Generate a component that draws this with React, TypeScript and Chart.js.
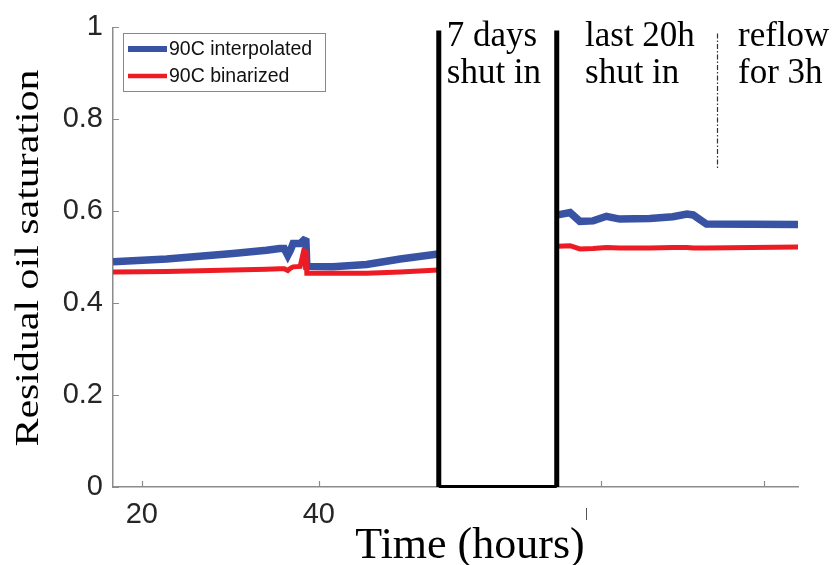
import React, { useEffect, useRef } from "react";
import { Chart, registerables } from "chart.js";

Chart.register(...registerables);

// ---- data ----
const timeHours = [16.75, 22.8, 30.3, 34.1, 35.6, 36.1, 36.5, 36.8, 37.1, 37.9, 38.3, 38.55, 38.65, 41.6, 45.4, 49.2, 53.5, 60, 67.0, 68.4, 69.5, 71.0, 72.5, 74.0, 77.4, 80.0, 81.6, 82.3, 83.8, 94.15];
const interpolated = [0.490, 0.496, 0.508, 0.515, 0.519, 0.519, 0.504, 0.515, 0.530, 0.530, 0.537, 0.535, 0.480, 0.479, 0.484, 0.496, 0.507, null, 0.592, 0.597, 0.578, 0.579, 0.589, 0.583, 0.584, 0.588, 0.594, 0.592, 0.572, 0.571];
const binarized = [0.468, 0.469, 0.472, 0.474, 0.475, 0.475, 0.471, 0.476, 0.479, 0.480, 0.514, 0.512, 0.465, 0.465, 0.465, 0.468, 0.472, null, 0.524, 0.525, 0.518, 0.519, 0.521, 0.520, 0.520, 0.521, 0.521, 0.520, 0.520, 0.522];

const seriesNames = ["90C interpolated", "90C binarized"];
const xTickValues = [20, 40, 71.9, 90.3];
const xTickLabels = ["20", "40", "", ""];
const yTickValues = [0, 0.2, 0.4, 0.6, 0.8, 1];
const xMin = 16.75;
const xMax = 94.15;
const shutInStart = 53.56;
const shutInEnd = 66.89;
const reflowMark = 84.97;
const annotations = [
  { x: 53.56, lines: ["7 days", "shut in"] },
  { x: 69.18, lines: ["last 20h", "shut in"] },
  { x: 86.47, lines: ["reflow", "for 3h"] },
];
const xTitle = "Time (hours)";
const yTitle = "Residual oil saturation";

const BLUE = "rgb(57, 83, 164)";
const RED = "rgb(237, 28, 36)";
const SERIF = "'Liberation Serif', 'Times New Roman', serif";
const SANS = "'Liberation Sans', Arial, sans-serif";

const overlayPlugin = {
  id: "overlay",
  afterDatasetsDraw(chart: any) {
    const { ctx, chartArea, scales } = chart;
    const x = scales.x;
    const y = scales.y;
    const yb = y.getPixelForValue(0);
    const yt = chartArea.top + 3;
    const xl = x.getPixelForValue(shutInStart);
    const xr = x.getPixelForValue(shutInEnd);
    ctx.save();
    ctx.fillStyle = "#fff";
    ctx.fillRect(xl, yt, xr - xl, yb - yt);
    ctx.strokeStyle = "#000";
    ctx.lineWidth = 5;
    ctx.beginPath();
    ctx.moveTo(xl, yt);
    ctx.lineTo(xl, yb);
    ctx.moveTo(xr, yt);
    ctx.lineTo(xr, yb);
    ctx.stroke();
    ctx.lineWidth = 3;
    ctx.beginPath();
    ctx.moveTo(xl, yb - 0.5);
    ctx.lineTo(xr, yb - 0.5);
    ctx.stroke();
    // dash-dot marker
    const xd = Math.round(x.getPixelForValue(reflowMark)) + 0.5;
    ctx.strokeStyle = "#333";
    ctx.lineWidth = 1.2;
    ctx.setLineDash([5, 2, 1.5, 2]);
    ctx.beginPath();
    ctx.moveTo(xd, chartArea.top + 6);
    ctx.lineTo(xd, y.getPixelForValue(0.69));
    ctx.stroke();
    ctx.setLineDash([]);
    ctx.restore();
  },
  afterDraw(chart: any) {
    const { ctx, chartArea, scales } = chart;
    const x = scales.x;
    const y = scales.y;
    ctx.save();
    // inward ticks
    ctx.strokeStyle = "#8c8c8c";
    ctx.lineWidth = 1.2;
    ctx.beginPath();
    yTickValues.forEach((v) => {
      const py = Math.round(y.getPixelForValue(v)) + 0.5;
      ctx.moveTo(chartArea.left, py);
      ctx.lineTo(chartArea.left + 6, py);
    });
    xTickValues.forEach((v) => {
      const px = Math.round(x.getPixelForValue(v)) + 0.5;
      ctx.moveTo(px, chartArea.bottom);
      ctx.lineTo(px, chartArea.bottom - 6);
    });
    ctx.stroke();
    // small fragment below axis
    ctx.strokeStyle = "#555";
    ctx.lineWidth = 1;
    ctx.beginPath();
    ctx.moveTo(586.5, 508);
    ctx.lineTo(586.5, 520);
    ctx.stroke();

    // annotation text
    ctx.fillStyle = "#000";
    ctx.font = `35px ${SERIF}`;
    ctx.textAlign = "left";
    ctx.textBaseline = "alphabetic";
    annotations.forEach((a) => {
      const px = x.getPixelForValue(a.x) + 8;
      a.lines.forEach((t, i) => ctx.fillText(t, px, 46 + i * 37));
    });

    // legend
    const lx = 123.5, ly = 33.5, lw = 202, lh = 58;
    ctx.fillStyle = "#fff";
    ctx.fillRect(lx, ly, lw, lh);
    ctx.strokeStyle = "#888";
    ctx.lineWidth = 1;
    ctx.strokeRect(lx, ly, lw, lh);
    const legendColors = [BLUE, RED];
    const legendWidths = [6, 4.5];
    const legendY = [49, 76];
    seriesNames.forEach((name, i) => {
      ctx.strokeStyle = legendColors[i];
      ctx.lineWidth = legendWidths[i];
      ctx.beginPath();
      ctx.moveTo(128, legendY[i]);
      ctx.lineTo(167, legendY[i]);
      ctx.stroke();
      ctx.fillStyle = "#111";
      ctx.font = `19.5px ${SANS}`;
      ctx.textBaseline = "middle";
      ctx.fillText(name, 169, legendY[i] + 1);
    });

    // axis titles
    ctx.fillStyle = "#000";
    ctx.textBaseline = "alphabetic";
    ctx.textAlign = "center";
    ctx.font = `44px ${SERIF}`;
    ctx.fillText(xTitle, 470, 558);
    ctx.save();
    ctx.translate(38, 258);
    ctx.rotate(-Math.PI / 2);
    ctx.scale(1.27, 1);
    ctx.font = `33px ${SERIF}`;
    ctx.fillText(yTitle, 0, 0);
    ctx.restore();
    ctx.restore();
  },
};

export default function App() {
  const canvasRef = useRef<HTMLCanvasElement | null>(null);
  useEffect(() => {
    const canvas = canvasRef.current;
    if (!canvas) return;
    const chart = new Chart(canvas, {
      type: "line",
      data: {
        datasets: [
          {
            label: seriesNames[0],
            data: timeHours.map((t, i) => ({ x: t, y: interpolated[i] })) as any,
            borderColor: BLUE,
            backgroundColor: BLUE,
            borderWidth: 7.5,
            pointRadius: 0,
            tension: 0,
            spanGaps: false,
            order: 1,
          },
          {
            label: seriesNames[1],
            data: timeHours.map((t, i) => ({ x: t, y: binarized[i] })) as any,
            borderColor: RED,
            backgroundColor: RED,
            borderWidth: 5,
            pointRadius: 0,
            tension: 0,
            spanGaps: false,
            order: 0,
          },
        ],
      },
      options: {
        responsive: false,
        animation: false,
        devicePixelRatio: 1,
        layout: { padding: { top: 22, right: 36, left: 0, bottom: 0 } },
        plugins: { legend: { display: false }, tooltip: { enabled: false } },
        scales: {
          x: {
            type: "linear",
            min: xMin,
            max: xMax,
            afterFit: (s: any) => {
              s.height = 78;
            },
            afterBuildTicks: (s: any) => {
              s.ticks = xTickValues.map((v) => ({ value: v }));
            },
            grid: { display: false, drawTicks: false },
            border: { display: true, color: "#8c8c8c", width: 1.5 },
            ticks: {
              autoSkip: false,
              maxRotation: 0,
              padding: 11,
              color: "#262626",
              font: { family: SANS, size: 29 },
              callback: (v: any) => {
                const i = xTickValues.indexOf(Number(v));
                return i >= 0 ? xTickLabels[i] : "";
              },
            },
          },
          y: {
            type: "linear",
            min: 0,
            max: 1,
            afterFit: (s: any) => {
              s.width = 113;
            },
            afterBuildTicks: (s: any) => {
              s.ticks = yTickValues.map((v) => ({ value: v }));
            },
            grid: { display: false, drawTicks: false },
            border: { display: true, color: "#8c8c8c", width: 1.5 },
            ticks: {
              padding: 10,
              color: "#262626",
              font: { family: SANS, size: 29 },
              callback: (v: any) => String(Number(v)),
            },
          },
        },
      },
      plugins: [overlayPlugin],
    });
    return () => chart.destroy();
  }, []);
  return (
    <div style={{ position: "absolute", left: 0, top: 0, width: 834, height: 565, background: "#fff" }}>
      <canvas ref={canvasRef} width={834} height={565} style={{ display: "block" }} />
    </div>
  );
}
